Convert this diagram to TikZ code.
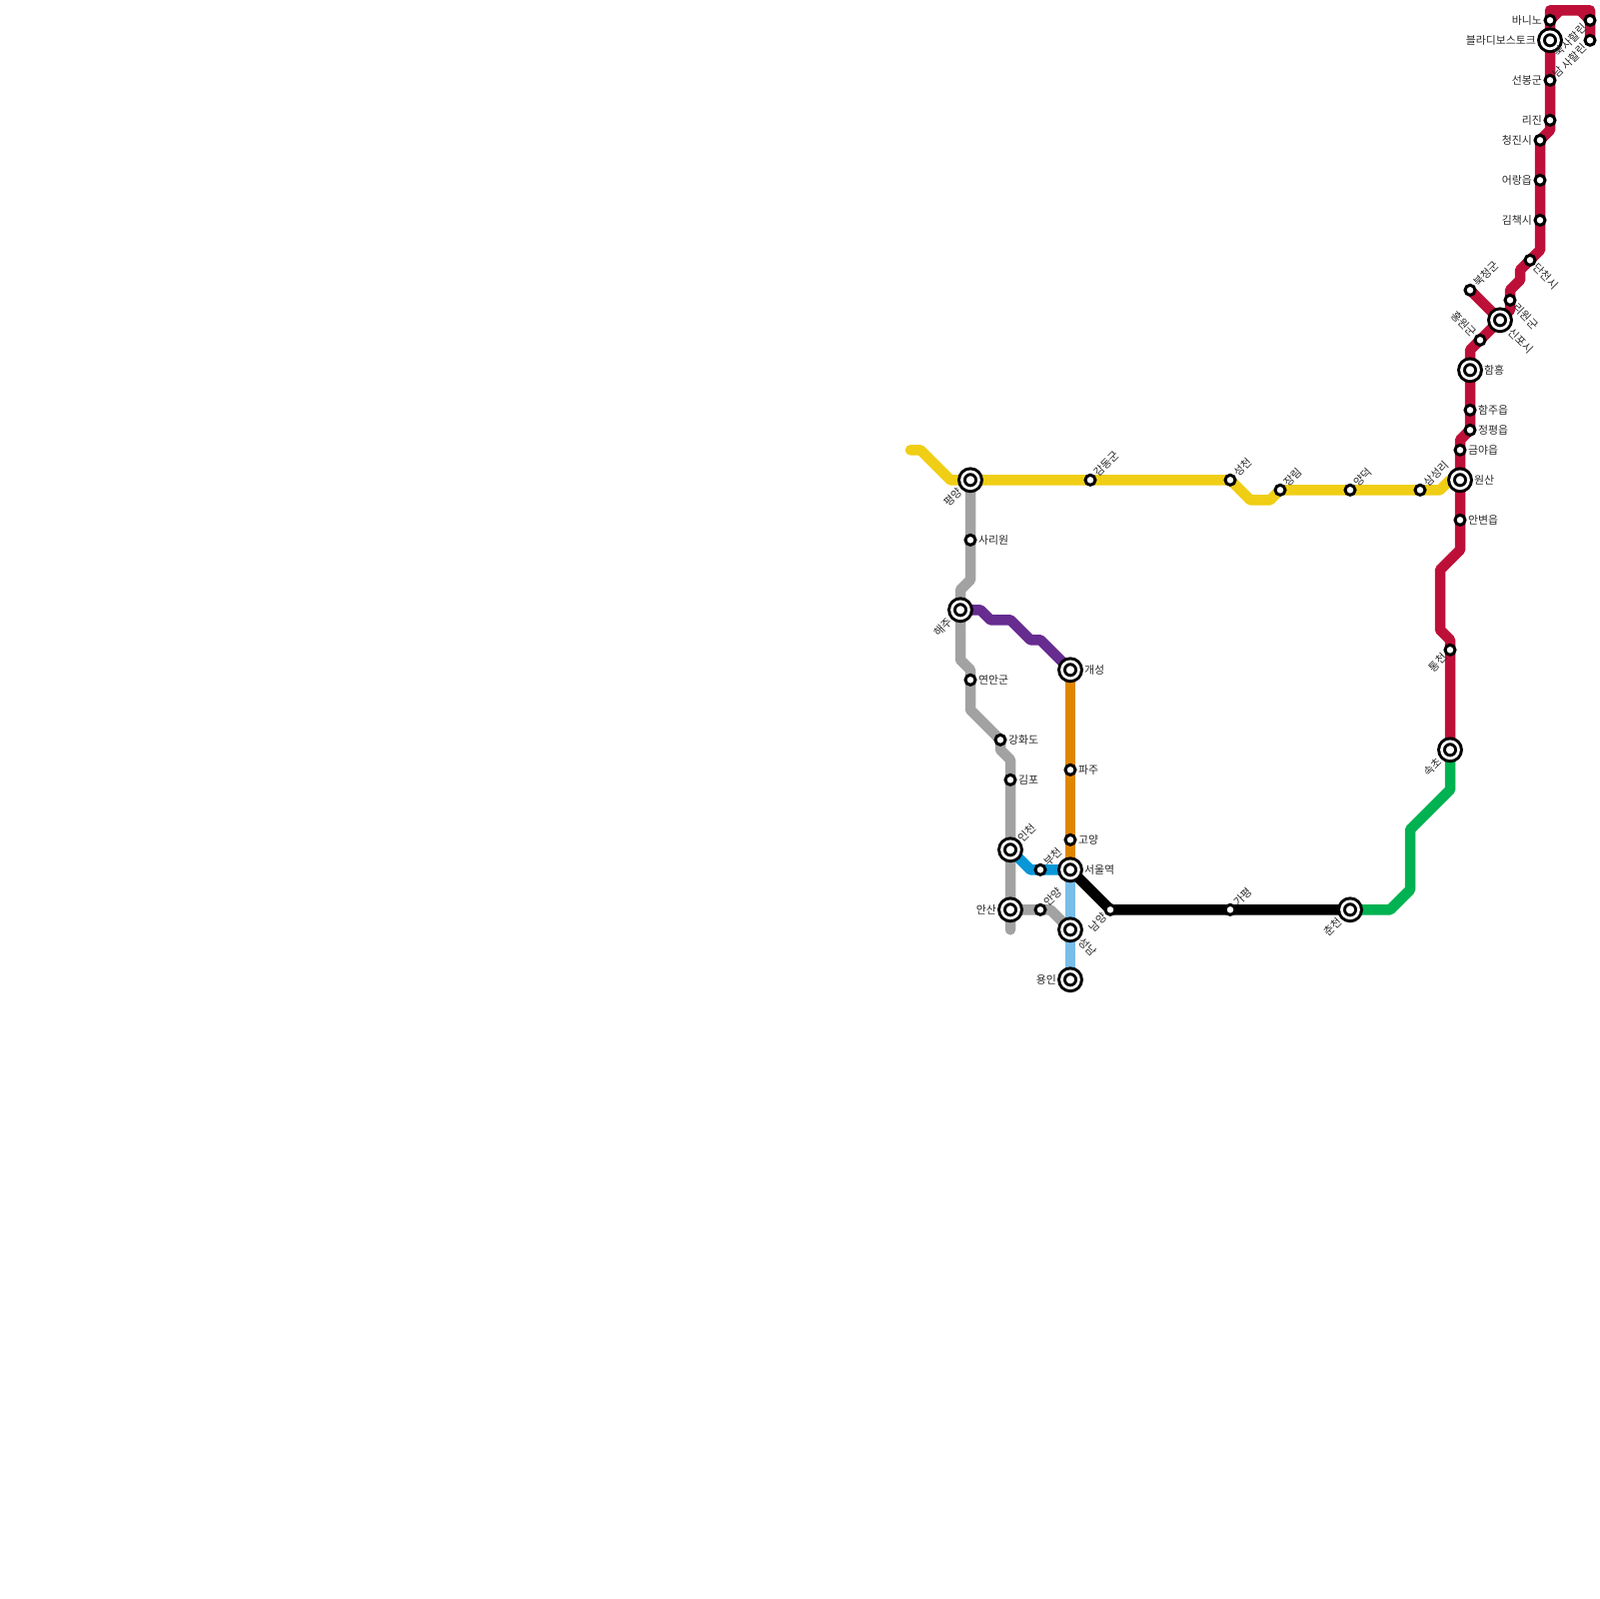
\documentclass[tikz,border=0pt]{standalone}
\usepackage{fontspec}
\setmainfont{Noto Sans CJK KR}
\definecolor{lineyellow}{HTML}{F0CE15}
\definecolor{linegray}{HTML}{A2A2A2}
\definecolor{linepurple}{HTML}{662C90}
\definecolor{lineorange}{HTML}{DF8600}
\definecolor{lineblue}{HTML}{0896D7}
\definecolor{linesky}{HTML}{79BDE9}
\definecolor{linegreen}{HTML}{00B251}
\definecolor{linered}{HTML}{BD1038}
\usetikzlibrary{backgrounds}

\begin{document}
\begin{tikzpicture}[
  x=0.1mm, y=-0.1mm,
  stn/.style={circle,draw=black,fill=white,line width=0.3mm,inner sep=0pt,outer sep=0pt,
              minimum size=1mm,/utils/exec={\gdef\labgap{0.3mm}}},
  xfer/.style={circle,draw=black,fill=white,line width=0.3mm,double=white,double distance=0.27mm,
               inner sep=0pt,outer sep=0pt,minimum size=1.7mm,/utils/exec={\gdef\labgap{0.55mm}}},
  lbl/.style={font=\fontsize{3.1}{3.1}\selectfont,inner sep=0pt,outer sep=\labgap,text=black!85},
  labr/.style={label={[lbl,anchor=west]0:#1}},
  labl/.style={label={[lbl,anchor=east]180:#1}},
  labne/.style={label={[lbl,rotate=45,anchor=west]45:#1}},
  labsw/.style={label={[lbl,rotate=45,anchor=east]225:#1}},
  labse/.style={label={[lbl,rotate=-45,anchor=west]-45:#1}},
  labnw/.style={label={[lbl,rotate=-45,anchor=east]135:#1}},
  route/.style={line width=1.05mm,line cap=round,line join=round}
]
  \useasboundingbox (-1,-0.3) rectangle (1599,1599.7);
  \coordinate (westend) at (910,450);
  \coordinate (grayend) at (1010,930);

  % yellow
  \node[xfer,labsw=평양] (pyongyang) at (970,480) {};
  \node[stn,labne=감동군] (gamdong) at (1090,480) {};
  \node[stn,labne=성천] (seongcheon) at (1230,480) {};
  \node[stn,labne=장림] (jangrim) at (1280,490) {};
  \node[stn,labne=양덕] (yangdeok) at (1350,490) {};
  \node[stn,labne=삼성리] (samseong) at (1420,490) {};
  \node[xfer,labr=원산] (wonsan) at (1460,480) {};

  % gray
  \node[stn,labr=사리원] (sariwon) at (970,540) {};
  \node[xfer,labsw=해주] (haeju) at (960,610) {};
  \node[stn,labr=연안군] (yeonan) at (970,680) {};
  \node[stn,labr=강화도] (ganghwa) at (1000,740) {};
  \node[stn,labr=김포] (gimpo) at (1010,780) {};
  \node[xfer,labne=인천] (incheon) at (1010,850) {};
  \node[xfer,labl=안산] (ansan) at (1010,910) {};
  \node[stn,labne=안양] (anyang) at (1040,910) {};

  % centre
  \node[xfer,labr=개성] (gaeseong) at (1070,670) {};
  \node[stn,labr=파주] (paju) at (1070,770) {};
  \node[stn,labr=고양] (goyang) at (1070,840) {};
  \node[xfer,labr=서울역] (seoul) at (1070,870) {};
  \node[stn,labne=부천] (bucheon) at (1040,870) {};
  \node[xfer,labse=성남] (seongnam) at (1070,930) {};
  \node[xfer,labl=용인] (yongin) at (1070,980) {};
  \node[stn,labsw=남양] (namyang) at (1110,910) {};
  \node[stn,labne=가평] (gapyeong) at (1230,910) {};
  \node[xfer,labsw=춘천] (chuncheon) at (1350,910) {};
  \node[xfer,labsw=속초] (sokcho) at (1450,750) {};

  % red
  \node[stn,labsw=통천] (tongcheon) at (1450,650) {};
  \node[stn,labr=안변읍] (anbyeon) at (1460,520) {};
  \node[stn,labr=금야읍] (geumya) at (1460,450) {};
  \node[stn,labr=정평읍] (jeongpyeong) at (1470,430) {};
  \node[stn,labr=함주읍] (hamju) at (1470,410) {};
  \node[xfer,labr=함흥] (hamheung) at (1470,370) {};
  \node[stn,labnw=홍원군] (hongwon) at (1480,340) {};
  \node[xfer,labse=신포시] (sinpo) at (1500,320) {};
  \node[stn,labne=북청군] (bukcheong) at (1470,290) {};
  \node[stn,labse=리원군] (riwon) at (1510,300) {};
  \node[stn,labse=단천시] (dancheon) at (1530,260) {};
  \node[stn,labl=김책시] (gimchaek) at (1540,220) {};
  \node[stn,labl=어랑읍] (eorang) at (1540,180) {};
  \node[stn,labl=청진시] (cheongjin) at (1540,140) {};
  \node[stn,labl=리진] (rijin) at (1550,120) {};
  \node[stn,labl=선봉군] (seonbong) at (1550,80) {};
  \node[xfer,labl=블라디보스토크] (vladivostok) at (1550,40) {};
  \node[stn,labl=바니노] (vanino) at (1550,20) {};
  \node[stn,labsw=북사할린] (northsakhalin) at (1590,20) {};
  \node[stn,labsw={남 사할린}] (southsakhalin) at (1590,40) {};

  \begin{scope}[on background layer]
    \draw[route,lineyellow] (westend) -- (920,450) -- (950,480) -- (pyongyang.center) -- (gamdong.center)
      -- (seongcheon.center) -- (1250,500) -- (1270,500) -- (jangrim.center) -- (yangdeok.center)
      -- (samseong.center) -- (1440,490) -- (1450,480) -- (wonsan.center);
    \draw[route,linegray] (pyongyang.center) -- (sariwon.center) -- (970,580) -- (960,590) -- (haeju.center)
      -- (960,660) -- (970,670) -- (yeonan.center) -- (970,710) -- (ganghwa.center) -- (1000,750)
      -- (1010,760) -- (gimpo.center) -- (incheon.center) -- (ansan.center) -- (grayend);
    \draw[route,linegray] (ansan.center) -- (anyang.center) -- (1050,910) -- (seongnam.center);
    \draw[route,linepurple] (haeju.center) -- (980,610) -- (990,620) -- (1010,620) -- (1030,640)
      -- (1040,640) -- (gaeseong.center);
    \draw[route,lineorange] (gaeseong.center) -- (paju.center) -- (goyang.center) -- (seoul.center);
    \draw[route,lineblue] (incheon.center) -- (1030,870) -- (bucheon.center) -- (seoul.center);
    \draw[route,linesky] (seoul.center) -- (seongnam.center) -- (yongin.center);
    \draw[route,black] (seoul.center) -- (namyang.center) -- (gapyeong.center) -- (chuncheon.center);
    \draw[route,linegreen] (chuncheon.center) -- (1390,910) -- (1410,890) -- (1410,830) -- (1450,790)
      -- (sokcho.center);
    \draw[route,linered] (sokcho.center) -- (tongcheon.center) -- (1450,640) -- (1440,630) -- (1440,570)
      -- (1460,550) -- (anbyeon.center) -- (wonsan.center) -- (geumya.center) -- (1460,440)
      -- (jeongpyeong.center) -- (hamju.center) -- (hamheung.center) -- (1470,350) -- (hongwon.center)
      -- (sinpo.center) -- (1510,310) -- (riwon.center) -- (1510,290) -- (1520,280) -- (1520,270)
      -- (dancheon.center) -- (1540,250) -- (gimchaek.center) -- (eorang.center) -- (cheongjin.center)
      -- (1550,130) -- (rijin.center) -- (seonbong.center) -- (vladivostok.center) -- (vanino.center)
      -- (1550,10) -- (1590,10) -- (northsakhalin.center) -- (southsakhalin.center);
    \draw[route,linered] (bukcheong.center) -- (sinpo.center);
    \draw[route,linered] (vanino.center) -- (1560,10);
    \draw[route,linered] (1580,10) -- (northsakhalin.center);
  \end{scope}
\end{tikzpicture}
\end{document}
